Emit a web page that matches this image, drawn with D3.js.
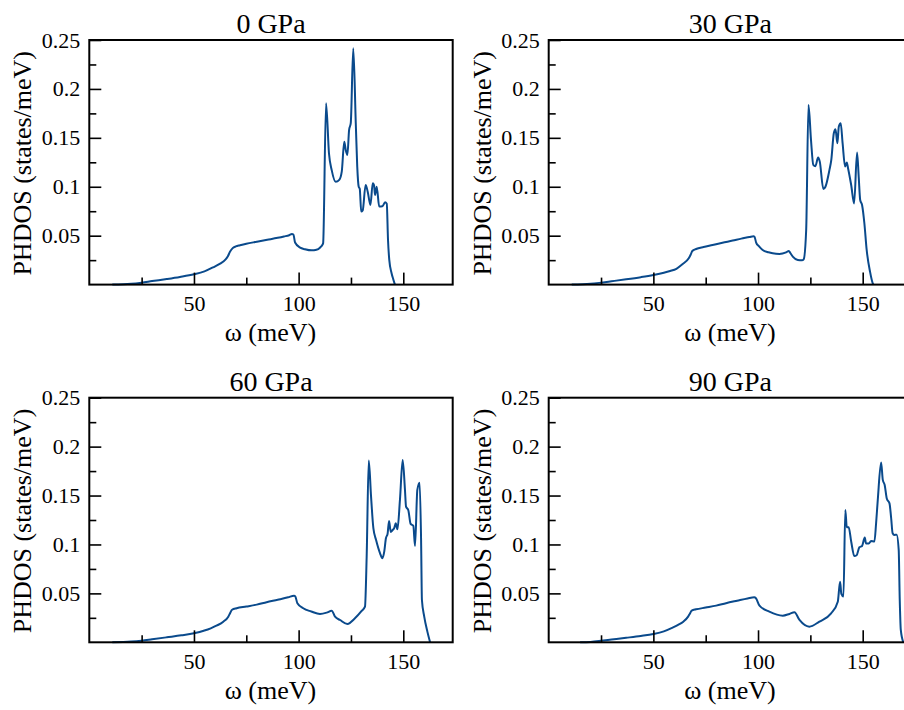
<!DOCTYPE html>
<html>
<head>
<meta charset="utf-8">
<script src="https://cdn.jsdelivr.net/npm/d3@7"></script>
<style>
  html, body { margin: 0; padding: 0; background: #fff; }
  svg { display: block; }
  text { font-family: "Liberation Serif", "Times New Roman", serif; fill: #000; }
</style>
</head>
<body>
<svg id="chart" width="904" height="710"></svg>
<script>
// ---- data (omega in meV, PHDOS in states/meV) ----
const titles = ["0 GPa", "30 GPa", "60 GPa", "90 GPa"];
const xMajorTicks = [50, 100, 150];
const xMinorTicks = [25, 75, 125, 175];
const xTickLabels = ["50", "100", "150"];
const yMajorTicks = [0.05, 0.1, 0.15, 0.2, 0.25];
const yMinorTicks = [0.025, 0.075, 0.125, 0.175, 0.225];
const yTickLabels = ["0.05", "0.1", "0.15", "0.2", "0.25"];
const xLabel = "ω (meV)";
const yLabel = "PHDOS (states/meV)";

const dos0 = [[11,0],[20,0.0008],[25,0.002],[30,0.0036],[37,0.0057],[43.3,0.0078],[50,0.0105],[55,0.0135],[59.2,0.0177],[62.5,0.0215],[65,0.0255],[66.2,0.029],[67.2,0.0335],[68.5,0.0373],[70,0.0390],[72,0.0402],[75,0.0418],[80,0.0438],[85,0.0458],[90,0.0478],[93,0.0492],[95.5,0.0505],[96.8,0.0517],[97.5,0.0512],[98.3,0.0430],[100.7,0.0378],[103,0.0362],[106.2,0.0350],[108.5,0.0356],[110.3,0.0380],[111.3,0.0405],[111.7,0.0422],[113.1,0.1854],[114.5,0.1340],[115.8,0.1170],[117.7,0.1050],[119.4,0.1070],[120.6,0.1155],[121.8,0.1460],[122.5,0.1376],[123.3,0.1325],[124.1,0.1580],[124.9,0.1650],[126.1,0.2416],[127.3,0.1650],[128.0,0.1206],[128.7,0.1000],[129.2,0.0980],[129.9,0.0746],[130.6,0.0757],[132.0,0.1018],[133.0,0.0950],[134.3,0.0814],[135.4,0.1035],[136.0,0.1018],[136.5,0.0916],[137.3,0.1001],[138.5,0.0797],[140.0,0.0800],[141.3,0.0841],[142.1,0.0826],[142.7,0.0456],[143.3,0.0252],[144.4,0.0116],[145.2,0.0055],[146.0,0]];

const dos30 = [[11,0],[20,0.0008],[25,0.002],[30,0.0034],[37,0.0054],[44,0.0076],[50,0.0098],[55,0.0121],[58,0.0139],[61,0.0162],[64,0.0210],[66.9,0.0269],[67.8,0.0305],[68.6,0.0343],[70.4,0.0364],[74,0.0385],[78.3,0.0405],[83,0.0428],[87.9,0.0450],[92,0.0470],[95.9,0.0486],[97.8,0.0495],[98.3,0.0490],[99.1,0.0430],[100.5,0.0390],[102.2,0.0354],[105,0.0330],[107,0.0320],[110.2,0.0314],[113.4,0.0330],[114.7,0.0344],[115.5,0.0320],[116.6,0.0286],[119,0.0252],[121,0.0248],[121.8,0.0258],[123,0.0558],[124.1,0.1836],[125.3,0.1480],[126.4,0.1223],[127.4,0.1210],[128.7,0.1298],[129.5,0.1257],[131.2,0.0977],[132.2,0.1000],[134.1,0.1170],[135,0.1274],[136.2,0.1547],[137,0.1588],[137.9,0.1445],[138.6,0.1615],[139.5,0.1650],[140.4,0.1445],[141.6,0.1206],[142.4,0.1247],[143,0.1190],[144.5,0.1018],[145.9,0.0830],[147.3,0.1350],[148.1,0.1100],[148.8,0.0865],[149.7,0.0814],[150.8,0.0627],[151.9,0.0354],[153.5,0.0132],[154.8,0.0013],[155.1,0]];

const dos60 = [[11,0],[20,0.0007],[25,0.0017],[30,0.0031],[37,0.0051],[44,0.0071],[50,0.0092],[55,0.0120],[58,0.0143],[61,0.0172],[64,0.0211],[66.4,0.0262],[67.3,0.0300],[68.2,0.0333],[70.4,0.0348],[75,0.0365],[80,0.0385],[84.7,0.0410],[90,0.0435],[95,0.0460],[97.8,0.0477],[98.4,0.0470],[99.4,0.0399],[102.2,0.0348],[106,0.0315],[110.2,0.0289],[113.4,0.0303],[115.8,0.0323],[117.4,0.0262],[119.8,0.0228],[123.3,0.0187],[126.9,0.0245],[130.1,0.0320],[131.7,0.0364],[132.5,0.0875],[133.5,0.1857],[134.6,0.1489],[135.7,0.1166],[137.0,0.1046],[138.9,0.0910],[140.0,0.0859],[140.9,0.0927],[141.7,0.1063],[142.5,0.1110],[143.2,0.1240],[144.0,0.1128],[144.8,0.1145],[145.7,0.1170],[146.4,0.1217],[147.2,0.1155],[148.4,0.1455],[149.7,0.1864],[150.8,0.1557],[151.3,0.1387],[152.4,0.1350],[153.5,0.1210],[154.8,0.1190],[155.6,0.0985],[156.7,0.1557],[157.8,0.1632],[158.5,0.1046],[158.9,0.0432],[160.0,0.0262],[161.5,0.0109],[162.8,0]];

const dos90 = [[15,0],[20,0.0004],[25,0.0015],[30,0.0028],[37,0.0046],[44,0.0065],[50,0.0085],[55,0.0112],[59.2,0.0150],[62,0.0180],[64.3,0.0211],[66.6,0.0262],[67.5,0.0295],[68.3,0.0324],[70.4,0.0337],[75,0.0355],[80,0.0375],[84.7,0.0400],[90,0.0425],[95,0.0448],[98.2,0.0460],[99.0,0.0450],[100.7,0.0374],[105.4,0.0313],[111.8,0.0272],[115,0.0290],[117.4,0.0307],[119.8,0.0228],[124.5,0.0160],[129.3,0.0211],[134.9,0.0296],[138.1,0.0415],[139.2,0.0620],[139.8,0.0494],[140.8,0.0467],[141.7,0.1353],[142.4,0.1176],[143.3,0.1176],[144.5,0.1030],[146.0,0.0882],[147.1,0.0890],[148.4,0.0971],[149.7,0.0985],[151.0,0.1070],[151.6,0.1010],[152.9,0.1010],[154.0,0.1035],[155.6,0.1030],[156.4,0.1217],[157.2,0.1455],[158.8,0.1837],[159.6,0.1660],[160.5,0.1608],[161.5,0.1470],[162.8,0.1420],[163.6,0.1268],[164.3,0.1114],[165.1,0.1097],[166.2,0.1100],[167.2,0.0944],[167.7,0.0432],[168.2,0.0126],[169.4,0]];

const series = [dos0, dos30, dos60, dos90];
const xDomain = [0, 173.6];
const yDomain = [0, 0.25];

// ---- layout ----
const svg = d3.select("#chart");
const panelW = 363.4, panelH = 244.6;
const origins = [[89.3, 40], [548.7, 40], [89.3, 397.7], [548.7, 397.7]];
const lineColor = "#0a4a8c";

series.forEach((data, i) => {
  const [ox, oy] = origins[i];
  const x = d3.scaleLinear().domain(xDomain).range([0, panelW]);
  const y = d3.scaleLinear().domain(yDomain).range([panelH, 0]);
  const g = svg.append("g").attr("transform", `translate(${ox},${oy})`);

  // curve
  const line = d3.line().curve(d3.curveMonotoneX)
    .x(d => x(d[0])).y(d => y(d[1]));
  g.append("path").datum(data)
    .attr("d", line)
    .attr("fill", "none")
    .attr("stroke", lineColor)
    .attr("stroke-width", 2)
    .attr("stroke-linejoin", "round");

  // x axis major/minor (ticks inward)
  const xMaj = d3.axisBottom(x).tickValues(xMajorTicks)
    .tickFormat((d, k) => xTickLabels[k]).tickSize(-12).tickPadding(11);
  const xMin = d3.axisBottom(x).tickValues(xMinorTicks.filter(v => v <= xDomain[1]))
    .tickFormat("").tickSize(-7);
  const gx = g.append("g").attr("transform", `translate(0,${panelH})`).call(xMaj);
  const gxm = g.append("g").attr("transform", `translate(0,${panelH})`).call(xMin);

  const yMaj = d3.axisLeft(y).tickValues(yMajorTicks)
    .tickFormat((d, k) => yTickLabels[k]).tickSize(-12).tickPadding(9);
  const yMin = d3.axisLeft(y).tickValues(yMinorTicks).tickFormat("").tickSize(-7);
  const gy = g.append("g").call(yMaj);
  const gym = g.append("g").call(yMin);

  [gx, gxm, gy, gym].forEach(a => {
    a.attr("font-family", null);
    a.select(".domain").remove();
    a.selectAll(".tick line").attr("stroke", "#000").attr("stroke-width", 1.6);
    a.selectAll(".tick text").style("font-family", '"Liberation Serif", serif')
      .style("font-size", "22px").attr("fill", "#000");
  });

  // frame
  g.append("rect").attr("x", 0).attr("y", 0)
    .attr("width", panelW).attr("height", panelH)
    .attr("fill", "none").attr("stroke", "#000").attr("stroke-width", 2);

  // title
  g.append("text").attr("x", panelW / 2).attr("y", -7)
    .attr("text-anchor", "middle").style("font-size", "28px").text(titles[i]);

  // x label
  g.append("text").attr("x", panelW / 2 - 0.5).attr("y", panelH + 56.5)
    .attr("text-anchor", "middle").style("font-size", "26px").text(xLabel);

  // y label
  g.append("text")
    .attr("transform", `translate(${-58},${panelH / 2 + 1}) rotate(-90)`)
    .attr("text-anchor", "middle").style("font-size", "26px").text(yLabel);
});
</script>
</body>
</html>
